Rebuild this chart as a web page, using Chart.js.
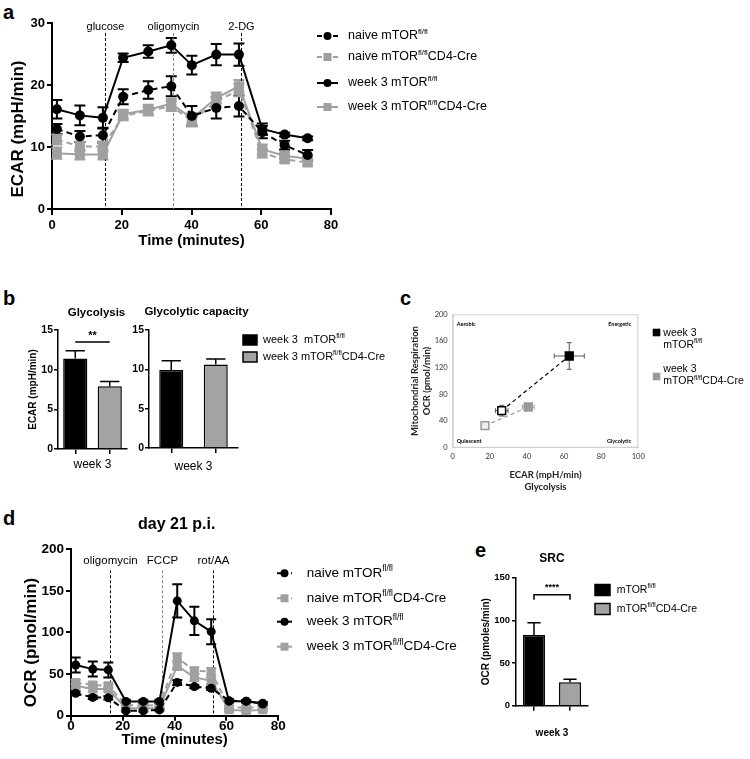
<!DOCTYPE html>
<html>
<head>
<meta charset="utf-8">
<script src="https://cdn.jsdelivr.net/npm/chart.js@4.4.1/dist/chart.umd.min.js"></script>
<style>
  body { margin: 0; width: 750px; height: 759px; background: #fff; position: relative; overflow: hidden; }
  canvas { position: absolute; }
  .tag { position: absolute; font: bold 20px "Liberation Sans", Arial, sans-serif; line-height: 20px; }
</style>
</head>
<body>
<div class="tag" style="left:3px;top:2px">a</div>
<div class="tag" style="left:3px;top:288px">b</div>
<div class="tag" style="left:400px;top:288px">c</div>
<div class="tag" style="left:3px;top:508px">d</div>
<div class="tag" style="left:475px;top:540px">e</div>
<canvas id="ecar" width="500" height="252" style="left:0;top:0"></canvas>
<canvas id="glyco" width="140" height="180" style="left:0;top:300px"></canvas>
<canvas id="glycoCap" width="260" height="180" style="left:130px;top:300px"></canvas>
<canvas id="pheno" width="355" height="200" style="left:395px;top:300px"></canvas>
<canvas id="ocr" width="500" height="249" style="left:0;top:510px"></canvas>
<canvas id="src" width="290" height="219" style="left:460px;top:540px"></canvas>
<script>
// ---- panel a: ECAR time course ----
const ecarTimes = [1.4, 8.0, 14.6, 20.4, 27.6, 34.2, 40.1, 47.1, 53.6, 60.3, 66.7, 73.3];
const ecarNaiveFl = [12.9, 11.7, 11.9, 18.1, 19.2, 19.8, 15.0, 16.3, 16.6, 12.4, 10.3, 8.7];
const ecarNaiveFlErr = [0.8, 0.9, 1.2, 1.2, 1.4, 1.6, 1.6, 1.7, 1.7, 1.0, 0.7, 0.8];
const ecarNaiveCre = [11.2, 10.1, 10.1, 15.0, 15.8, 16.6, 14.2, 17.3, 19.2, 9.0, 8.0, 7.5];
const ecarNaiveCreErr = [0.8, 0.8, 0.8, 0.7, 0.7, 0.8, 0.9, 0.8, 1.0, 0.7, 0.5, 0.5];
const ecarWeek3Fl = [16.1, 15.1, 14.7, 24.4, 25.4, 26.4, 23.2, 24.9, 24.9, 12.9, 12.0, 11.4];
const ecarWeek3FlErr = [1.5, 1.6, 1.7, 0.7, 1.0, 1.2, 1.5, 1.7, 1.8, 0.9, 0.3, 0.3];
const ecarWeek3Cre = [9.0, 8.8, 8.8, 15.3, 16.0, 17.0, 14.6, 17.9, 19.8, 9.6, 8.6, 8.1];
const ecarWeek3CreErr = [0.9, 0.8, 0.8, 0.7, 0.8, 0.8, 0.9, 0.9, 1.0, 0.8, 0.5, 0.4];
const ecarInjectTimes = [15.2, 34.7, 54.2];
const ecarInjectLabels = ['glucose', 'oligomycin', '2-DG'];

// ---- panel d: OCR time course ----
const ocrTimes = [1.8, 8.4, 14.4, 21.2, 27.9, 34.1, 41.0, 47.6, 54.1, 61.0, 67.6, 74.0];
const ocrNaiveFl = [27, 22, 21.5, 6, 6, 7, 40, 35, 33, 18, 17.5, 14];
const ocrNaiveFlErr = [2, 2, 2, 1, 1, 1, 3, 2, 2, 1.5, 1.5, 1.5];
const ocrNaiveCre = [40, 37, 36, 13, 12, 13, 70, 54, 53, 10, 10, 10];
const ocrNaiveCreErr = [3, 3, 3, 2, 2, 2, 5, 4, 4, 2, 2, 2];
const ocrWeek3Fl = [61, 56, 55, 17, 17, 17, 138, 114, 101, 17.5, 17.5, 15];
const ocrWeek3FlErr = [9, 9, 9, 2, 2, 2, 20, 17, 15, 2, 1.5, 1.5];
const ocrWeek3Cre = [36, 32, 32, 9, 9, 9, 60, 46, 42, 7, 6, 7];
const ocrWeek3CreErr = [3, 3, 3, 2, 2, 2, 5, 4, 4, 2, 2, 2];
const ocrInjectTimes = [15.1, 35.2, 54.9];
const ocrInjectLabels = ['oligomycin', 'FCCP', 'rot/AA'];

const seriesLabels = ['naive mTOR{fl/fl}', 'naive mTOR{fl/fl}CD4-Cre', 'week 3 mTOR{fl/fl}', 'week 3 mTOR{fl/fl}CD4-Cre'];

// ---- panels b, e: bars (mTOR fl/fl vs CD4-Cre, week 3) ----
const genotypes = ['mTOR{fl/fl}', 'mTOR{fl/fl}CD4-Cre'];
const glycolysisMean = [11.4, 7.9];
const glycolysisSem = [1.0, 0.6];
const glycoCapMean = [9.9, 10.6];
const glycoCapSem = [1.2, 0.7];
const srcMean = [82.9, 27.4];
const srcSem = [14.4, 3.5];
const barLegendB = ['week 3  mTOR{fl/fl}', 'week 3 mTOR{fl/fl}CD4-Cre'];

// ---- panel c: energy phenotype (naive, week 3) ----
const phenoEcarFl = [26.4, 62.8];
const phenoEcarFlErr = [3.4, 8.1];
const phenoOcrFl = [55.5, 137.5];
const phenoOcrFlErr = [8, 20];
const phenoEcarCre = [17.4, 40.7];
const phenoEcarCreErr = [1.5, 3.2];
const phenoOcrCre = [33, 61];
const phenoOcrCreErr = [2, 2.5];
const phenoLegend = [['week 3', 'mTOR{fl/fl}'], ['week 3', 'mTOR{fl/fl}CD4-Cre']];
const quadrantLabels = ['Aerobic', 'Energetic', 'Quiescent', 'Glycolytic'];

const FONT = '"Liberation Sans", Arial, sans-serif';
const LATO = 'Lato, "Liberation Sans", sans-serif';
const BLACK = '#000000';
const GRAY = '#a0a0a0';
const BAR_GRAY = '#a3a3a3';

Chart.defaults.font.family = FONT;
Chart.defaults.color = '#000';
Chart.defaults.animation = false;
Chart.defaults.responsive = false;
Chart.defaults.devicePixelRatio = 1;
Chart.defaults.plugins.legend.display = false;
Chart.defaults.plugins.tooltip.enabled = false;

// text with {superscript} parts
function drawRich(ctx, text, x, y, size, weight, family) {
  const parts = text.split(/(\{[^}]*\})/).filter(Boolean);
  let cx = x;
  for (const p of parts) {
    const sup = p[0] === '{';
    const t = sup ? p.slice(1, -1) : p;
    const s = sup ? size * 0.62 : size;
    ctx.font = weight + ' ' + s + 'px ' + family;
    ctx.fillText(t, cx, sup ? y - size * 0.33 : y);
    cx += ctx.measureText(t).width;
  }
}

function marker(ctx, style, x, y, r, fill) {
  ctx.beginPath();
  if (style === 'rect') ctx.rect(x - r, y - r, 2 * r, 2 * r);
  else ctx.arc(x, y, r, 0, Math.PI * 2);
  ctx.fillStyle = fill;
  ctx.fill();
}

function fixWidth(w) { return scale => { scale.width = w; }; }
function fixHeight(h) { return scale => { scale.height = h; }; }

function prismAxis(o) {
  const axis = {
    type: o.type || 'linear',
    offset: !!o.offset,
    border: { color: '#000', width: o.lw },
    grid: { drawOnChartArea: false, drawTicks: true, tickLength: o.tick, color: '#000', lineWidth: o.lw, offset: false },
    ticks: { display: o.showTicks !== false, padding: o.pad, font: { size: o.font, weight: 'bold' }, color: '#000' },
    title: { display: !!o.title, text: o.title, color: '#000', padding: o.titlePad,
             font: { size: o.titleSize, weight: o.titleWeight || 'bold' } },
    afterFit: o.w != null ? fixWidth(o.w) : fixHeight(o.h)
  };
  if (o.min != null) { axis.min = o.min; axis.max = o.max; axis.ticks.stepSize = o.step; }
  return axis;
}

function seriesSet(label, xs, ys, errs, color, style, dashed, r) {
  return {
    label: label,
    yErr: errs,
    data: xs.map((x, i) => ({ x: x, y: ys[i] })),
    showLine: true,
    borderColor: color,
    backgroundColor: color,
    borderWidth: 2,
    borderDash: dashed ? [6, 4] : [],
    pointStyle: style,
    pointRadius: style === 'rect' ? r * 1.41 : r,
    pointBorderWidth: 0,
    pointBackgroundColor: color,
    order: color === BLACK ? 0 : 1
  };
}

function barSet(means, sems, pct) {
  return {
    data: means,
    yErr: sems,
    backgroundColor: [BLACK, BAR_GRAY],
    borderColor: '#000',
    borderWidth: 1.5,
    barPercentage: pct,
    categoryPercentage: 1
  };
}

function phenoSet(label, xs, ys, xe, ye, color, fills, errColor) {
  return {
    label: label,
    data: xs.map((x, i) => ({ x: x, y: ys[i] })),
    xErr: xe,
    yErr: ye,
    errorColor: errColor,
    showLine: true,
    borderColor: color,
    borderWidth: 1.2,
    borderDash: [4, 3],
    pointStyle: 'rect',
    pointRadius: 5.5,
    pointBorderWidth: 1.5,
    pointBorderColor: color,
    pointBackgroundColor: fills
  };
}

function drawErrorBars(chart, o) {
  const ctx = chart.ctx;
  chart.data.datasets.forEach((ds, i) => {
    if (!ds.yErr) return;
    const meta = chart.getDatasetMeta(i);
    const xs = chart.scales[meta.xAxisID], ys = chart.scales[meta.yAxisID];
    ctx.save();
    ctx.strokeStyle = ds.errorColor || ds.borderColor;
    ctx.lineWidth = o.lineWidth;
    ctx.setLineDash([]);
    meta.data.forEach((el, j) => {
      const raw = ds.data[j];
      const yv = typeof raw === 'number' ? raw : raw.y;
      const cap = o.capRatio ? el.width * o.capRatio : o.cap;
      ctx.beginPath();
      const top = ys.getPixelForValue(yv + ds.yErr[j]);
      const bot = o.upOnly ? el.y : ys.getPixelForValue(yv - ds.yErr[j]);
      ctx.moveTo(el.x, top); ctx.lineTo(el.x, bot);
      ctx.moveTo(el.x - cap, top); ctx.lineTo(el.x + cap, top);
      if (!o.upOnly) { ctx.moveTo(el.x - cap, bot); ctx.lineTo(el.x + cap, bot); }
      if (ds.xErr) {
        const l = xs.getPixelForValue(raw.x - ds.xErr[j]), r = xs.getPixelForValue(raw.x + ds.xErr[j]);
        ctx.moveTo(l, el.y); ctx.lineTo(r, el.y);
        ctx.moveTo(l, el.y - cap); ctx.lineTo(l, el.y + cap);
        ctx.moveTo(r, el.y - cap); ctx.lineTo(r, el.y + cap);
      }
      ctx.stroke();
    });
    ctx.restore();
  });
}

const errorBarPlugin = {
  id: 'errorBars',
  beforeDatasetsDraw(chart, args, o) { if (!o.upOnly) drawErrorBars(chart, o); },
  afterDatasetsDraw(chart, args, o) { if (o.upOnly) drawErrorBars(chart, o); }
};

const injectionPlugin = {
  id: 'injections',
  beforeDatasetsDraw(chart, args, o) {
    const { ctx, chartArea: a, scales: { x } } = chart;
    ctx.save();
    ctx.textAlign = 'center';
    ctx.textBaseline = 'middle';
    ctx.font = o.size + 'px ' + FONT;
    o.times.forEach((t, i) => {
      const px = Math.round(x.getPixelForValue(t)) + 0.5;
      ctx.strokeStyle = o.colors[i];
      ctx.lineWidth = 1;
      ctx.setLineDash([3, 2]);
      ctx.beginPath();
      ctx.moveTo(px, a.top + o.lineFrom);
      ctx.lineTo(px, a.bottom);
      ctx.stroke();
      ctx.fillStyle = '#000';
      ctx.fillText(o.labels[i], px, a.top + o.labelY);
    });
    ctx.restore();
  }
};

// y-axis title placed off the axis centre (as in the source figure)
const yTitlePlugin = {
  id: 'yTitle',
  afterDraw(chart, args, o) {
    const { ctx, chartArea: a } = chart;
    ctx.save();
    ctx.translate(o.x, (a.top + a.bottom) / 2 + o.dy);
    ctx.rotate(-Math.PI / 2);
    ctx.fillStyle = '#000';
    ctx.textAlign = 'center';
    ctx.textBaseline = 'middle';
    ctx.font = 'bold ' + o.size + 'px ' + FONT;
    ctx.fillText(o.text, 0, 0);
    ctx.restore();
  }
};

const legendPlugin = {
  id: 'figLegend',
  afterDraw(chart, args, o) {
    const ctx = chart.ctx;
    ctx.save();
    ctx.textBaseline = 'middle';
    ctx.textAlign = 'left';
    if (o.kind === 'line') {
      chart.data.datasets.forEach((ds, i) => {
        const y = o.rows[i];
        ctx.strokeStyle = ds.borderColor;
        ctx.lineWidth = ds.borderWidth;
        ctx.setLineDash(ds.borderDash.length ? o.dash : []);
        ctx.beginPath(); ctx.moveTo(o.x, y); ctx.lineTo(o.x + o.sample, y); ctx.stroke();
        ctx.setLineDash([]);
        marker(ctx, ds.pointStyle, o.x + o.sample / 2, y, o.markerR, ds.borderColor);
        ctx.fillStyle = '#000';
        drawRich(ctx, ds.label, o.textX, y, o.size, 'normal', FONT);
      });
    } else if (o.kind === 'box') {
      const ds = chart.data.datasets[0];
      o.labels.forEach((lab, i) => {
        const y = o.rows[i];
        ctx.fillStyle = ds.backgroundColor[i];
        ctx.fillRect(o.x, y - o.boxH / 2, o.boxW, o.boxH);
        ctx.strokeStyle = '#000'; ctx.lineWidth = 1.5;
        ctx.strokeRect(o.x, y - o.boxH / 2, o.boxW, o.boxH);
        ctx.fillStyle = '#000';
        drawRich(ctx, lab, o.textX, y, o.size, 'normal', FONT);
      });
    } else {
      chart.data.datasets.forEach((ds, i) => {
        marker(ctx, 'rect', o.x + o.markerR, o.squareY[i], o.markerR, ds.borderColor);
        ctx.fillStyle = '#000';
        ds.label.forEach((line, k) => drawRich(ctx, line, o.textX, o.rows[i] + k * o.lineGap, o.size, 'normal', FONT));
      });
    }
    ctx.restore();
  }
};

const sigPlugin = {
  id: 'sig',
  afterDatasetsDraw(chart, args, o) {
    const ctx = chart.ctx;
    const bars = chart.getDatasetMeta(0).data;
    const y = chart.scales.y.getPixelForValue(o.value);
    ctx.save();
    ctx.strokeStyle = '#000';
    ctx.lineWidth = o.lineWidth;
    ctx.beginPath();
    ctx.moveTo(bars[0].x, y + o.leg);
    ctx.lineTo(bars[0].x, y);
    ctx.lineTo(bars[1].x, y);
    ctx.lineTo(bars[1].x, y + o.leg);
    ctx.stroke();
    ctx.fillStyle = '#000';
    ctx.textAlign = 'center';
    ctx.textBaseline = 'middle';
    ctx.font = 'bold ' + o.size + 'px ' + FONT;
    ctx.fillText(o.text, (bars[0].x + bars[1].x) / 2, y - o.textGap);
    ctx.restore();
  }
};

const panelTitlePlugin = {
  id: 'panelTitle',
  afterDraw(chart, args, o) {
    const { ctx, chartArea: a } = chart;
    ctx.save();
    ctx.fillStyle = '#000';
    ctx.textAlign = 'center';
    ctx.textBaseline = 'middle';
    ctx.font = 'bold ' + o.size + 'px ' + FONT;
    ctx.fillText(o.text, (a.left + a.right) / 2 + (o.dx || 0), a.top - o.gap);
    ctx.restore();
  }
};

const quadrantPlugin = {
  id: 'quadrants',
  beforeDatasetsDraw(chart, args, o) {
    const { ctx, chartArea: a } = chart;
    ctx.save();
    ctx.strokeStyle = o.boxColor;
    ctx.lineWidth = 1;
    ctx.strokeRect(a.left + 0.5, a.top + 0.5, a.width - 1, a.height - 1);
    ctx.fillStyle = '#000';
    ctx.textBaseline = 'middle';
    ctx.font = 'bold ' + o.size + 'px ' + LATO;
    ctx.textAlign = 'left';
    ctx.fillText(o.labels[0], a.left + o.insetX, a.top + o.insetTop);
    ctx.fillText(o.labels[2], a.left + o.insetX, a.bottom - o.insetBottom);
    ctx.textAlign = 'right';
    ctx.fillText(o.labels[1], a.right - o.insetRight, a.top + o.insetTop);
    ctx.fillText(o.labels[3], a.right - o.insetRight, a.bottom - o.insetBottom);
    ctx.restore();
  }
};

// a
new Chart(document.getElementById('ecar'), {
  type: 'scatter',
  data: {
    datasets: [
      seriesSet(seriesLabels[0], ecarTimes, ecarNaiveFl, ecarNaiveFlErr, BLACK, 'circle', true, 5),
      seriesSet(seriesLabels[1], ecarTimes, ecarNaiveCre, ecarNaiveCreErr, GRAY, 'rect', true, 5),
      seriesSet(seriesLabels[2], ecarTimes, ecarWeek3Fl, ecarWeek3FlErr, BLACK, 'circle', false, 5),
      seriesSet(seriesLabels[3], ecarTimes, ecarWeek3Cre, ecarWeek3CreErr, GRAY, 'rect', false, 5)
    ]
  },
  options: {
    layout: { padding: { left: 0, top: 23, right: 169, bottom: 0 } },
    scales: {
      x: prismAxis({ min: 0, max: 80, step: 20, lw: 2, tick: 6, pad: 3, font: 13, title: 'Time (minutes)', titleSize: 15, titlePad: { top: 0, bottom: 2 }, h: 43 }),
      y: prismAxis({ min: 0, max: 30, step: 10, lw: 2, tick: 5, pad: 2, font: 13, title: '', w: 52 })
    },
    plugins: {
      yTitle: { text: 'ECAR (mpH/min)', size: 17, x: 18, dy: 13 },
      errorBars: { lineWidth: 2, cap: 5.5 },
      injections: { times: ecarInjectTimes, labels: ecarInjectLabels, colors: ['#000', '#888', '#000'], size: 11, labelY: 4, lineFrom: 10 },
      figLegend: { kind: 'line', x: 317, sample: 21, textX: 348, rows: [36, 57, 83, 107], size: 12.5, markerR: 4, dash: [5, 3] }
    }
  },
  plugins: [errorBarPlugin, injectionPlugin, legendPlugin, yTitlePlugin]
});

// b, left
new Chart(document.getElementById('glyco'), {
  type: 'bar',
  data: { labels: genotypes, datasets: [barSet(glycolysisMean, glycolysisSem, 0.7)] },
  options: {
    layout: { padding: { left: 0, top: 30, right: 13, bottom: 0 } },
    scales: {
      x: prismAxis({ type: 'category', offset: true, showTicks: false, lw: 1.5, tick: 5, pad: 0, font: 11, title: 'week 3', titleSize: 12, titleWeight: 'normal', titlePad: { top: 0, bottom: 8 }, h: 31 }),
      y: prismAxis({ min: 0, max: 15, step: 5, lw: 1.5, tick: 4, pad: 1, font: 10.5, title: 'ECAR (mpH/min)', titleSize: 10, titlePad: { top: 27, bottom: 0 }, w: 58 })
    },
    plugins: {
      panelTitle: { text: 'Glycolysis', size: 11.5, gap: 17, dx: 4 },
      errorBars: { lineWidth: 1.5, capRatio: 0.4, upOnly: true },
      sig: { value: 13.5, text: '**', size: 11, textGap: 6, leg: 0, lineWidth: 1.5 }
    }
  },
  plugins: [errorBarPlugin, sigPlugin, panelTitlePlugin]
});

// b, right
new Chart(document.getElementById('glycoCap'), {
  type: 'bar',
  data: { labels: genotypes, datasets: [barSet(glycoCapMean, glycoCapSem, 0.54)] },
  options: {
    layout: { padding: { left: 0, top: 30, right: 152, bottom: 0 } },
    scales: {
      x: prismAxis({ type: 'category', offset: true, showTicks: false, lw: 1.5, tick: 5, pad: 0, font: 11, title: 'week 3', titleSize: 12, titleWeight: 'normal', titlePad: { top: 0, bottom: 6 }, h: 32 }),
      y: prismAxis({ min: 0, max: 15, step: 5, lw: 1.5, tick: 4, pad: 1, font: 10.5, title: '', w: 19 })
    },
    plugins: {
      panelTitle: { text: 'Glycolytic capacity', size: 11.5, gap: 18, dx: 3 },
      errorBars: { lineWidth: 1.5, capRatio: 0.4, upOnly: true },
      figLegend: { kind: 'box', labels: barLegendB, x: 113, textX: 133, rows: [40, 57], boxW: 14, boxH: 10, size: 11 }
    }
  },
  plugins: [errorBarPlugin, panelTitlePlugin, legendPlugin]
});

// c
new Chart(document.getElementById('pheno'), {
  type: 'scatter',
  data: {
    datasets: [
      phenoSet(phenoLegend[0], phenoEcarFl, phenoOcrFl, phenoEcarFlErr, phenoOcrFlErr, BLACK, ['#ffffff', BLACK], '#555'),
      phenoSet(phenoLegend[1], phenoEcarCre, phenoOcrCre, phenoEcarCreErr, phenoOcrCreErr, '#9a9a9a', ['#eeeeee', '#9a9a9a'], '#999')
    ]
  },
  options: {
    layout: { padding: { left: 0, top: 14.3, right: 111.7, bottom: 0 } },
    scales: {
      x: {
        min: 0, max: 100,
        border: { color: '#d0d0d0', width: 1 },
        grid: { display: false, drawTicks: false },
        ticks: { stepSize: 20, padding: 4, font: { family: LATO, size: 7.5 }, color: '#333' },
        title: { display: true, text: ['ECAR (mpH/min)', 'Glycolysis'], color: '#222',
                 font: { family: LATO, size: 9.5, weight: 'bold', lineHeight: 1.25 }, padding: { top: 0, bottom: 7 } },
        afterFit: fixHeight(52.3)
      },
      y: {
        min: 0, max: 200,
        border: { color: '#d0d0d0', width: 1 },
        grid: { display: false, drawTicks: false },
        ticks: { stepSize: 40, padding: 5, font: { family: LATO, size: 7.5 }, color: '#333' },
        title: { display: true, text: ['Mitochondrial Respiration', 'OCR (pmol/min)'], color: '#222',
                 font: { family: LATO, size: 9.5, weight: 'bold', lineHeight: 1.25 }, padding: { top: 14, bottom: 0 } },
        afterFit: fixWidth(57.7)
      }
    },
    plugins: {
      errorBars: { lineWidth: 1, cap: 2.5 },
      quadrants: { labels: quadrantLabels, size: 5.5, boxColor: '#d0d0d0', insetX: 4, insetRight: 7, insetTop: 10, insetBottom: 6 },
      figLegend: { kind: 'square', x: 257.7, textX: 268.3, rows: [32.7, 69.3], squareY: [32.5, 76.5], lineGap: 12, markerR: 3.8, size: 10.5 }
    }
  },
  plugins: [errorBarPlugin, quadrantPlugin, legendPlugin]
});

// d
new Chart(document.getElementById('ocr'), {
  type: 'scatter',
  data: {
    datasets: [
      seriesSet(seriesLabels[0], ocrTimes, ocrNaiveFl, ocrNaiveFlErr, BLACK, 'circle', true, 4.5),
      seriesSet(seriesLabels[1], ocrTimes, ocrNaiveCre, ocrNaiveCreErr, GRAY, 'rect', true, 4.5),
      seriesSet(seriesLabels[2], ocrTimes, ocrWeek3Fl, ocrWeek3FlErr, BLACK, 'circle', false, 4.5),
      seriesSet(seriesLabels[3], ocrTimes, ocrWeek3Cre, ocrWeek3CreErr, GRAY, 'rect', false, 4.5)
    ]
  },
  options: {
    layout: { padding: { left: 0, top: 39.3, right: 221.7, bottom: 0 } },
    scales: {
      x: prismAxis({ min: 0, max: 80, step: 20, lw: 2, tick: 5, pad: -3, font: 13.5, title: 'Time (minutes)', titleSize: 15, titlePad: { top: 0, bottom: 10 }, h: 43.3 }),
      y: prismAxis({ min: 0, max: 200, step: 50, lw: 2, tick: 5, pad: 2, font: 13.5, title: '', w: 71 })
    },
    plugins: {
      yTitle: { text: 'OCR (pmol/min)', size: 17, x: 31.7, dy: 10 },
      panelTitle: { text: 'day 21 p.i.', size: 16, gap: 24.3, dx: 2 },
      errorBars: { lineWidth: 2, cap: 5 },
      injections: { times: ocrInjectTimes, labels: ocrInjectLabels, colors: ['#000', '#888', '#000'], size: 11.5, labelY: 11.5, lineFrom: 21 },
      figLegend: { kind: 'line', x: 277, sample: 15, textX: 306.7, rows: [63.3, 88.3, 111.7, 136.7], size: 13.5, markerR: 4, dash: [4, 3] }
    }
  },
  plugins: [errorBarPlugin, injectionPlugin, legendPlugin, panelTitlePlugin, yTitlePlugin]
});

// e
new Chart(document.getElementById('src'), {
  type: 'bar',
  data: { labels: genotypes, datasets: [barSet(srcMean, srcSem, 0.61)] },
  options: {
    layout: { padding: { left: 0, top: 37.7, right: 162, bottom: 0 } },
    scales: {
      x: prismAxis({ type: 'category', offset: true, showTicks: false, lw: 1.5, tick: 5, pad: 0, font: 10, title: 'week 3', titleSize: 10, titlePad: { top: 0, bottom: 20 }, h: 53.3 }),
      y: prismAxis({ min: 0, max: 150, step: 50, lw: 1.5, tick: 4, pad: 2, font: 9.5, title: 'OCR (pmoles/min)', titleSize: 10, titlePad: { top: 20.7, bottom: 0 }, w: 56 })
    },
    plugins: {
      panelTitle: { text: 'SRC', size: 12, gap: 19.4, dx: 0 },
      errorBars: { lineWidth: 1.5, capRatio: 0.3, upOnly: true },
      sig: { value: 130, text: '****', size: 9, textGap: 7, leg: 5, lineWidth: 1.5 },
      figLegend: { kind: 'box', labels: genotypes, x: 135, textX: 156.7, rows: [50, 69], boxW: 15, boxH: 11, size: 10.5 }
    }
  },
  plugins: [errorBarPlugin, sigPlugin, panelTitlePlugin, legendPlugin]
});
</script>
</body>
</html>
